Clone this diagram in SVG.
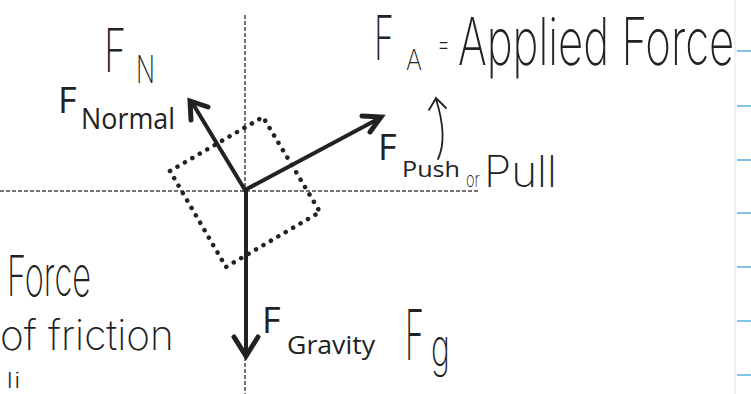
<svg xmlns="http://www.w3.org/2000/svg" width="751" height="394" viewBox="0 0 751 394">
<style>
.axis{stroke:#444;stroke-width:1.5;stroke-dasharray:4 2;fill:none}
.box{stroke:#222;stroke-width:4.5;stroke-dasharray:0.1 8.5;stroke-linecap:round;fill:none}
.arrow{stroke:#222;stroke-width:4;fill:none;stroke-linecap:round}
.head{stroke:#222;stroke-width:5;fill:none;stroke-linejoin:miter;stroke-linecap:round}
.print{font-family:"Open Sans","Liberation Sans",sans-serif;fill:#222}
.hand{font-family:Inter,"DejaVu Sans",sans-serif;font-weight:250;fill:#222}
.margin{stroke:#7fc3e8;stroke-width:2}
</style>
<rect width="751" height="394" fill="#ffffff"/>
<line x1="735" y1="0" x2="735" y2="394" stroke="#eeeeee" stroke-width="1.5"/>
<g id="margin-marks">
<line class="margin" x1="737" y1="51" x2="751" y2="51"/>
<line class="margin" x1="737" y1="106" x2="751" y2="106"/>
<line class="margin" x1="737" y1="160" x2="751" y2="160"/>
<line class="margin" x1="737" y1="213" x2="751" y2="213"/>
<line class="margin" x1="737" y1="267" x2="751" y2="267"/>
<line class="margin" x1="737" y1="321" x2="751" y2="321"/>
<line class="margin" x1="737" y1="375" x2="751" y2="375"/>
</g>
<g id="axes">
<line class="axis" x1="245" y1="15" x2="245" y2="394"/>
<line class="axis" x1="0" y1="191" x2="478" y2="191"/>
</g>
<g id="object">
<polygon class="box" points="170,171 263,117 320,212 226,267"/>
</g>
<g id="connectors">
<line class="arrow" x1="245" y1="190" x2="193" y2="104"/>
<polyline class="head" points="191,120 190,101 208,107"/>
<line class="arrow" x1="245" y1="190" x2="378" y2="119"/>
<polyline class="head" points="362,116 381,117 370,132"/>
<line class="arrow" x1="246" y1="190" x2="246" y2="353"/>
<polyline class="head" points="234,337 246,356 258,337"/>
</g>
<g id="normal-label">
<text class="hand" transform="translate(104,72) scale(0.6,1)" font-size="60" textLength="37" lengthAdjust="spacingAndGlyphs">F</text>
<text class="hand" x="136" y="83" font-size="38" textLength="19" lengthAdjust="spacingAndGlyphs">N</text>
<text class="print" x="58" y="113" font-size="36">F</text>
<text class="print" x="81" y="129" font-size="29" textLength="94" lengthAdjust="spacingAndGlyphs">Normal</text>
</g>
<g id="applied-label">
<text class="hand" transform="translate(374,60) scale(0.55,1)" font-size="62" textLength="36" lengthAdjust="spacingAndGlyphs">F</text>
<text class="hand" x="406" y="70" font-size="28" textLength="16" lengthAdjust="spacingAndGlyphs">A</text>
<text class="hand" x="437" y="54" font-size="30" textLength="13" lengthAdjust="spacingAndGlyphs">=</text>
<text class="hand" transform="translate(458,65) scale(0.65,1)" font-size="66" textLength="425" lengthAdjust="spacingAndGlyphs">Applied Force</text>
<path d="M429,110 L436,98 L446,108 M436,99 C441,115 447,140 438,159" fill="none" stroke="#222" stroke-width="1.8" stroke-linecap="round"/>
<text class="print" x="378" y="160" font-size="36">F</text>
<text class="print" x="402" y="177" font-size="21" textLength="58" lengthAdjust="spacingAndGlyphs">Push</text>
<text class="hand" transform="translate(466,187) scale(0.65,1)" font-size="22" textLength="21" lengthAdjust="spacingAndGlyphs">or</text>
<text class="hand" transform="translate(484,187) scale(0.8,1)" font-size="44" textLength="91" lengthAdjust="spacingAndGlyphs">Pull</text>
</g>
<g id="gravity-label">
<text class="print" x="262" y="333" font-size="36">F</text>
<text class="print" x="287" y="354" font-size="25" textLength="88" lengthAdjust="spacingAndGlyphs">Gravity</text>
<text class="hand" transform="translate(405,360) scale(0.5,1)" font-size="70" textLength="38" lengthAdjust="spacingAndGlyphs">F</text>
<text class="hand" transform="translate(431,366) scale(0.65,1)" font-size="52" textLength="29" lengthAdjust="spacingAndGlyphs">g</text>
</g>
<g id="friction-note">
<text class="hand" transform="translate(7,296) scale(0.56,1)" font-size="56" textLength="150" lengthAdjust="spacingAndGlyphs">Force</text>
<text class="hand" transform="translate(0,350) scale(0.84,1)" font-size="42" textLength="207" lengthAdjust="spacingAndGlyphs">of friction</text>
<text class="hand" x="6" y="388" font-size="22" textLength="15" lengthAdjust="spacingAndGlyphs">li</text>
</g>
</svg>
